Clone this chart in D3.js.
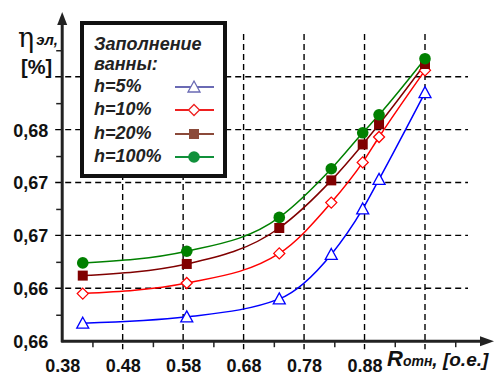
<!DOCTYPE html>
<html>
<head>
<meta charset="utf-8">
<script src="https://cdn.jsdelivr.net/npm/d3@7"></script>
<style>
  html, body { margin: 0; padding: 0; background: #fff; }
  svg { display: block; font-family: "Liberation Sans", Arial, sans-serif; }
  .tick-lbl { font-weight: bold; font-size: 18px; fill: #111; }
  .grid { stroke: #000; stroke-width: 1.4; stroke-dasharray: 6 4; fill: none; }
</style>
</head>
<body>
<svg id="chart" width="498" height="376"></svg>
<script>
// x positions of measurement points (R отн, о.е.)
const xVals = [0.414, 0.586, 0.739, 0.825, 0.877, 0.904, 0.98];
// efficiency for each bath filling
const h5   = [0.6567, 0.6573, 0.6590, 0.6632, 0.6675, 0.6703, 0.6785];
const h10  = [0.6595, 0.6605, 0.6633, 0.6681, 0.6719, 0.6743, 0.6806];
const h20  = [0.6612, 0.6623, 0.6657, 0.6702, 0.6736, 0.6755, 0.6812];
const h100 = [0.6624, 0.6635, 0.6667, 0.6713, 0.6747, 0.6764, 0.6817];

const yTickVals = [0.655, 0.66, 0.665, 0.67, 0.675];
const yTickLabels = ["0,66", "0,66", "0,67", "0,67", "0,68"];
const yGridVals = [0.66, 0.665, 0.67, 0.675, 0.68];
const yMinorVals = [0.6575, 0.6625, 0.6675, 0.6725, 0.6775, 0.6825];
const xTickVals = [0.38, 0.48, 0.58, 0.68, 0.78, 0.88];
const xTickLabels = ["0.38", "0.48", "0.58", "0.68", "0.78", "0.88"];
const xGridVals = [0.48, 0.58, 0.68, 0.78, 0.88, 0.98];
const xMinorVals = [0.43, 0.53, 0.63, 0.73, 0.83, 0.93, 1.03];

const series = [
  { name: "h=5%",   values: h5,   color: "#0000ff", legColor: "#6a6ab4", marker: "tri" },
  { name: "h=10%",  values: h10,  color: "#ff0000", legColor: "#ee2020", marker: "dia" },
  { name: "h=20%",  values: h20,  color: "#800000", legColor: "#8b4a3a", marker: "sq" },
  { name: "h=100%", values: h100, color: "#008000", legColor: "#10903a", marker: "dot" }
];

const svg = d3.select("#chart");
const x = d3.scaleLinear().domain([0.38, 0.98]).range([62.2, 425]);
const y = d3.scaleLinear().domain([0.655, 0.68]).range([341.2, 76.7]);
const plotTop = 34;
const axX = x(0.38), axY = y(0.655);

// dashed grid
svg.append("g").selectAll("line").data(yGridVals).join("line")
  .attr("class", "grid")
  .attr("x1", axX - 7).attr("x2", 468)
  .attr("y1", d => y(d)).attr("y2", d => y(d));
svg.append("g").selectAll("line").data(xGridVals).join("line")
  .attr("class", "grid")
  .attr("x1", d => x(d)).attr("x2", d => x(d))
  .attr("y1", plotTop).attr("y2", axY + 8);

// minor ticks via d3 axes
const yMinor = svg.append("g").attr("transform", `translate(${axX},0)`)
  .call(d3.axisLeft(y).tickValues(yMinorVals).tickSize(6).tickFormat(""));
const xMinor = svg.append("g").attr("transform", `translate(0,${axY})`)
  .call(d3.axisBottom(x).tickValues(xMinorVals).tickSize(6).tickFormat(""));
[yMinor, xMinor].forEach(g => {
  g.select(".domain").remove();
  g.selectAll("line").attr("stroke", "#222").attr("stroke-width", 1.5);
});

// tick labels
const yLab = svg.append("g").attr("transform", `translate(${axX},0)`)
  .call(d3.axisLeft(y).tickValues(yTickVals).tickSize(0).tickPadding(14)
    .tickFormat((d, i) => yTickLabels[i]));
const xLab = svg.append("g").attr("transform", `translate(0,${axY})`)
  .call(d3.axisBottom(x).tickValues(xTickVals).tickSize(0).tickPadding(20)
    .tickFormat((d, i) => xTickLabels[i]));
[yLab, xLab].forEach(g => {
  g.select(".domain").remove();
  g.selectAll("text").attr("class", "tick-lbl").attr("font-family", null).attr("font-size", null);
});
yLab.selectAll("text").attr("dy", "0.36em");
xLab.selectAll("text").attr("dy", "0.62em");

// curves
const line = d3.line()
  .x((d, i) => x(xVals[i]))
  .y(d => y(d))
  .curve(d3.curveMonotoneX);

series.forEach(s => {
  svg.append("path").datum(s.values)
    .attr("d", line)
    .attr("fill", "none")
    .attr("stroke", s.color)
    .attr("stroke-width", 1.5);
});

function drawMarker(g, type, cx, cy, color) {
  if (type === "tri") {
    g.append("path")
      .attr("d", `M${cx},${cy - 6}L${cx + 6},${cy + 5}L${cx - 6},${cy + 5}Z`)
      .attr("fill", "#fff").attr("stroke", color).attr("stroke-width", 1.3);
  } else if (type === "dia") {
    g.append("path")
      .attr("d", `M${cx},${cy - 5.5}L${cx + 5.5},${cy}L${cx},${cy + 5.5}L${cx - 5.5},${cy}Z`)
      .attr("fill", "#fff").attr("stroke", color).attr("stroke-width", 1.3);
  } else if (type === "sq") {
    g.append("rect")
      .attr("x", cx - 5).attr("y", cy - 5).attr("width", 10).attr("height", 10)
      .attr("fill", color);
  } else {
    g.append("circle").attr("cx", cx).attr("cy", cy).attr("r", 5.8).attr("fill", color);
  }
}

series.forEach(s => {
  const g = svg.append("g");
  s.values.forEach((v, i) => drawMarker(g, s.marker, x(xVals[i]), y(v), s.color));
});

// axes with arrows
svg.append("line").attr("x1", axX).attr("x2", axX).attr("y1", axY + 1).attr("y2", 22)
  .attr("stroke", "#222").attr("stroke-width", 3);
svg.append("path").attr("d", `M${axX},12L${axX + 5},25L${axX - 5},25Z`).attr("fill", "#222");
svg.append("line").attr("x1", axX - 1).attr("x2", 482).attr("y1", axY).attr("y2", axY)
  .attr("stroke", "#222").attr("stroke-width", 3);
svg.append("path").attr("d", `M494,${axY}L480,${axY - 5}L480,${axY + 5}Z`).attr("fill", "#222");

// y axis title
const yt = svg.append("text").attr("x", 18).attr("y", 47).attr("fill", "#111");
yt.append("tspan").attr("font-family", "DejaVu Serif").attr("font-size", 27).text("η");
yt.append("tspan").attr("font-size", 15).attr("font-weight", "bold").attr("font-style", "italic")
  .attr("dx", 2).attr("dy", -2).text("эл,");
svg.append("text").attr("x", 21).attr("y", 74).attr("fill", "#111")
  .attr("font-size", 20).attr("font-weight", "bold").text("[%]");

// x axis title
const xt = svg.append("text").attr("x", 387).attr("y", 366)
  .attr("font-weight", "bold").attr("font-style", "italic").attr("fill", "#111");
xt.append("tspan").attr("font-size", 22).text("R");
xt.append("tspan").attr("font-size", 14).text("отн");
xt.append("tspan").attr("font-size", 19).text(", [о.е.]");

// legend
const leg = svg.append("g");
leg.append("rect").attr("x", 82).attr("y", 23).attr("width", 143).attr("height", 153)
  .attr("fill", "#fff").attr("stroke", "#111").attr("stroke-width", 4);
leg.append("text").attr("x", 94).attr("y", 50)
  .attr("font-size", 18).attr("font-weight", "bold").attr("font-style", "italic").attr("fill", "#222")
  .text("Заполнение");
leg.append("text").attr("x", 94).attr("y", 70)
  .attr("font-size", 18).attr("font-weight", "bold").attr("font-style", "italic").attr("fill", "#222")
  .text("ванны:");
const legY = [92, 115, 139, 162];
series.forEach((s, i) => {
  leg.append("text").attr("x", 94).attr("y", legY[i])
    .attr("font-size", 18).attr("font-weight", "bold").attr("font-style", "italic").attr("fill", "#222")
    .text(s.name);
  const my = legY[i] - 5;
  leg.append("line").attr("x1", 175).attr("x2", 214).attr("y1", my).attr("y2", my)
    .attr("stroke", s.legColor).attr("stroke-width", 2);
  drawMarker(leg, s.marker, 194, my, s.legColor);
});
</script>
</body>
</html>
